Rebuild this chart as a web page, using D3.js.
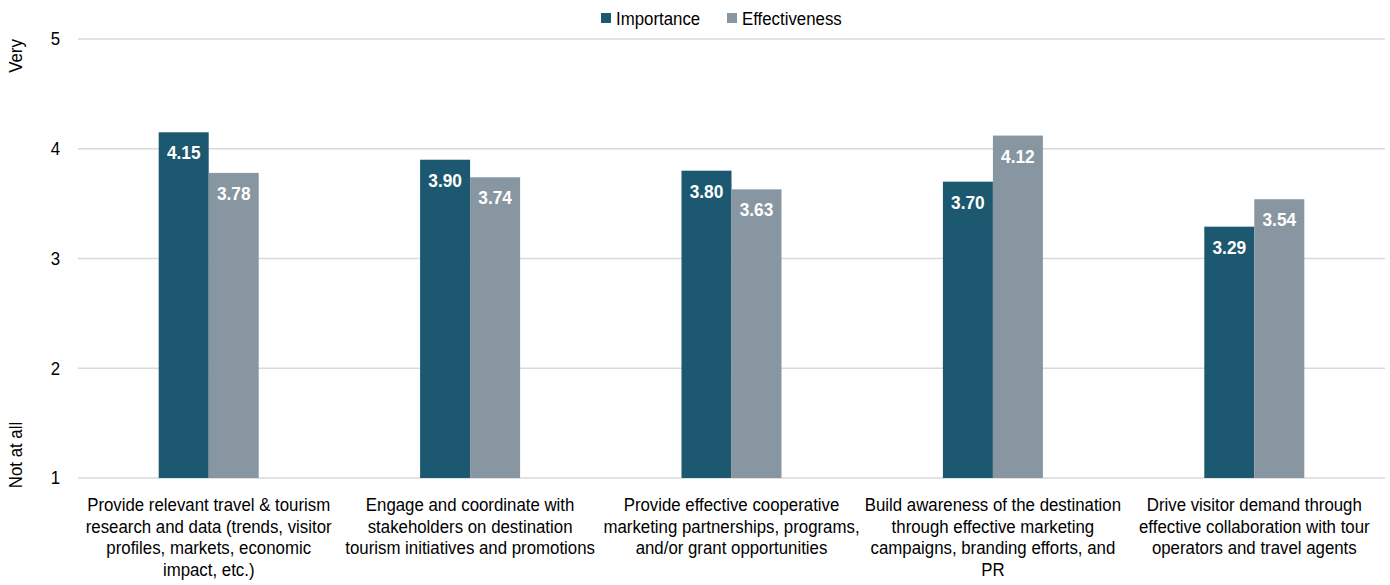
<!DOCTYPE html>
<html><head><meta charset="utf-8">
<script src="https://cdn.jsdelivr.net/npm/d3@7/dist/d3.min.js"></script>
<style>
body{margin:0;background:#fff;}
svg text{font-family:"Liberation Sans",Arial,sans-serif;fill:#000;}
</style></head>
<body><svg id="c" width="1390" height="585"></svg>
<script>
const categories = [
  "Provide relevant travel & tourism|research and data (trends, visitor|profiles, markets, economic|impact, etc.)",
  "Engage and coordinate with|stakeholders on destination|tourism initiatives and promotions",
  "Provide effective cooperative|marketing partnerships, programs,|and/or grant opportunities",
  "Build awareness of the destination|through effective marketing|campaigns, branding efforts, and|PR",
  "Drive visitor demand through|effective collaboration with tour|operators and travel agents"
];
const seriesNames = ["Importance", "Effectiveness"];
const importance = [4.15, 3.90, 3.80, 3.70, 3.29];
const effectiveness = [3.78, 3.74, 3.63, 4.12, 3.54];
const yTicks = [1, 2, 3, 4, 5];
const colors = ["#1c586f", "#8796a0"];

(function(){
const svg = d3.select("#c");
const pL = 78, pR = 1385, pT = 39, pB = 478;
const SX = 0.91, FS = 18.5;
const x0 = d3.scaleBand().domain(d3.range(categories.length)).range([pL, pR]).padding(0);
const bw = x0.bandwidth();
const x1 = d3.scaleBand().domain(seriesNames).range([bw * 0.3087, bw * 0.6913]).padding(0);
const y = d3.scaleLinear().domain([1, 5]).range([pB, pT]);

function ntext(parent, x, yy, str, opts = {}) {
  const rot = opts.rotate ? " rotate(-90)" : "";
  const t = parent.append("text")
    .attr("transform", `translate(${x},${yy})${rot} scale(${SX},1)`)
    .attr("x", 0).attr("y", 0)
    .attr("text-anchor", opts.anchor || "start")
    .attr("font-size", opts.size || FS);
  if (opts.bold) t.attr("font-weight", "bold");
  if (opts.fill) t.style("fill", opts.fill);
  if (opts.dy) t.attr("dy", opts.dy);
  t.text(str);
  return t;
}

svg.append("g").selectAll("line").data(yTicks).join("line")
  .attr("x1", pL).attr("x2", pR)
  .attr("y1", d => y(d)).attr("y2", d => y(d))
  .attr("stroke", "#d9d9d9").attr("stroke-width", 1.3);

const ga = svg.append("g");
yTicks.forEach(v => ntext(ga, 60, y(v), d3.format("d")(v), {anchor: "end", dy: "0.35em"}));

ntext(svg, 22, 56, "Very", {anchor: "middle", rotate: true});
ntext(svg, 22, 455, "Not at all", {anchor: "middle", rotate: true});

const data = categories.map((c, i) => ({i, vals: [importance[i], effectiveness[i]]}));
const groups = svg.append("g").selectAll("g").data(data).join("g")
  .attr("transform", d => `translate(${x0(d.i)},0)`);
groups.selectAll("rect").data(d => d.vals.map((v, k) => ({k, v}))).join("rect")
  .attr("x", d => x1(seriesNames[d.k])).attr("width", x1.bandwidth())
  .attr("y", d => y(d.v)).attr("height", d => y(1) - y(d.v))
  .attr("fill", d => colors[d.k]);
groups.each(function(d) {
  const g = d3.select(this);
  d.vals.forEach((v, k) => {
    ntext(g, x1(seriesNames[k]) + x1.bandwidth() / 2, y(v) + 27, v.toFixed(2),
      {anchor: "middle", bold: true, fill: "#fff", size: 19});
  });
});

const cg = svg.append("g");
categories.forEach((d, i) => {
  const t = ntext(cg, x0(i) + bw / 2, 511, "", {anchor: "middle"});
  d.split("|").forEach((line, j) => {
    t.append("tspan").attr("x", 0).attr("dy", j === 0 ? 0 : 21.7).text(line);
  });
});

const leg = svg.append("g");
const legX = [601, 727];
seriesNames.forEach((s, k) => {
  leg.append("rect").attr("x", legX[k]).attr("y", 13).attr("width", 10).attr("height", 10).attr("fill", colors[k]);
  ntext(leg, legX[k] + 15, 24.5, s);
});
})();
</script></body></html>
